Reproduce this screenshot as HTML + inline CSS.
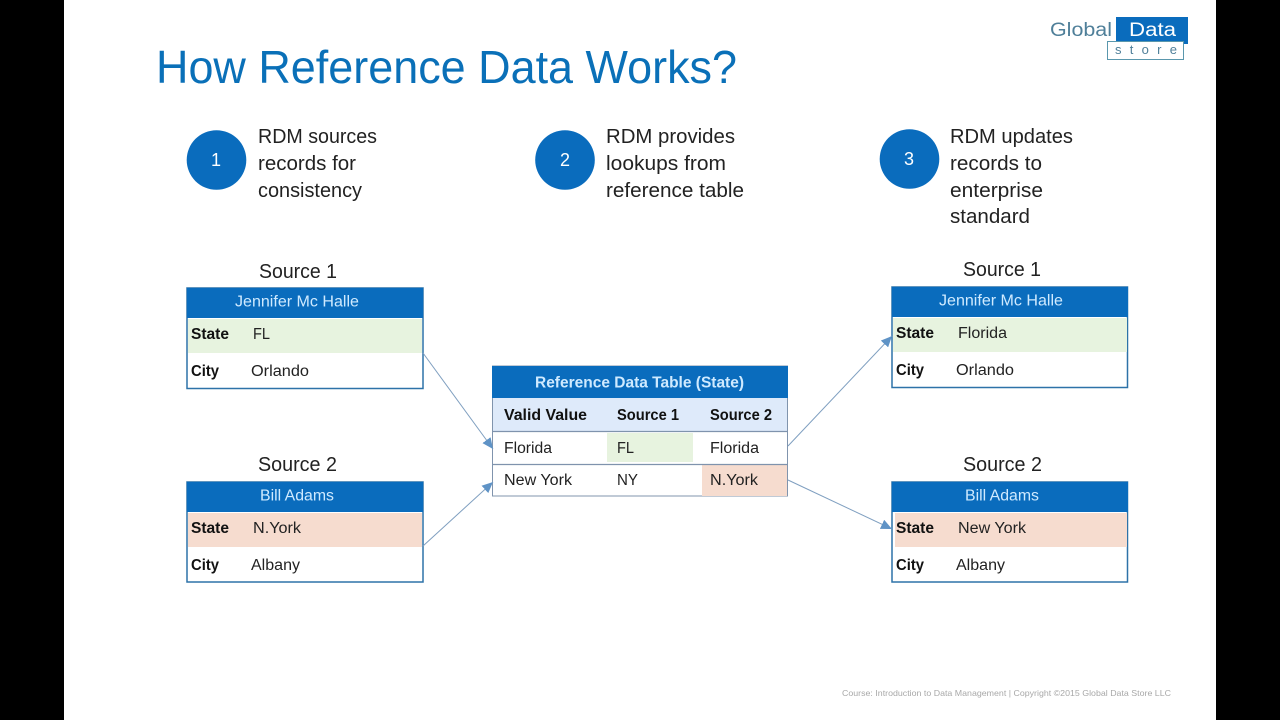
<!DOCTYPE html>
<html><head><meta charset="utf-8"><style>
html,body{margin:0;padding:0;background:#000;width:1280px;height:720px;overflow:hidden}
svg{display:block}
text{font-family:"Liberation Sans",sans-serif}
</style></head><body>
<svg width="1280" height="720" viewBox="0 0 1280 720" xmlns="http://www.w3.org/2000/svg">
<defs><marker id="a" markerWidth="12" markerHeight="10" refX="11" refY="5" orient="auto" markerUnits="userSpaceOnUse"><path d="M0 0L11 5L0 10Z" fill="#5f93c6"/></marker></defs>
<rect x="0" y="0" width="1280" height="720" fill="#000"/>
<rect x="64" y="0" width="1152" height="720" fill="#fff"/>

<text x="156" y="83" font-size="46" fill="#0a70b8" textLength="581" lengthAdjust="spacingAndGlyphs">How Reference Data Works?</text>

<!-- logo -->
<rect x="1116" y="17" width="72" height="27" fill="#0a6cbd"/>
<rect x="1107.500" y="41.500" width="76" height="18" fill="#fff" stroke="#5a97ad"/>
<text x="1050" y="36" font-size="19" fill="#4f7f99" textLength="62" lengthAdjust="spacingAndGlyphs">Global</text>
<text x="1129" y="36" font-size="19" fill="#fff" textLength="47" lengthAdjust="spacingAndGlyphs">Data</text>
<text x="1115" y="54" font-size="13" fill="#4f7f99" textLength="62">store</text>

<!-- steps -->
<circle cx="216.500" cy="160" r="29.800" fill="#0a6cbd"/>
<text x="216" y="166" font-size="18" fill="#fff" text-anchor="middle">1</text>
<circle cx="565" cy="160" r="29.800" fill="#0a6cbd"/>
<text x="565" y="166" font-size="18" fill="#fff" text-anchor="middle">2</text>
<circle cx="909.500" cy="159" r="29.800" fill="#0a6cbd"/>
<text x="909" y="165" font-size="18" fill="#fff" text-anchor="middle">3</text>

<g font-size="20" fill="#222">
<text x="258" y="143" textLength="119" lengthAdjust="spacingAndGlyphs">RDM sources</text>
<text x="258" y="170" textLength="98" lengthAdjust="spacingAndGlyphs">records for</text>
<text x="258" y="197" textLength="104" lengthAdjust="spacingAndGlyphs">consistency</text>
<text x="606" y="143" textLength="129" lengthAdjust="spacingAndGlyphs">RDM provides</text>
<text x="606" y="170" textLength="120" lengthAdjust="spacingAndGlyphs">lookups from</text>
<text x="606" y="197" textLength="138" lengthAdjust="spacingAndGlyphs">reference table</text>
<text x="950" y="143" textLength="123" lengthAdjust="spacingAndGlyphs">RDM updates</text>
<text x="950" y="170" textLength="92" lengthAdjust="spacingAndGlyphs">records to</text>
<text x="950" y="197" textLength="93" lengthAdjust="spacingAndGlyphs">enterprise</text>
<text x="950" y="223" textLength="80" lengthAdjust="spacingAndGlyphs">standard</text>
</g>

<!-- Source 1 left -->
<text x="259" y="278" font-size="20" fill="#222" textLength="78" lengthAdjust="spacingAndGlyphs">Source 1</text>
<rect x="187" y="288" width="236" height="100.500" fill="#fff" stroke="#2d72a8" stroke-width="1.500"/>
<rect x="187" y="288" width="236" height="30" fill="#0a6cbd"/>
<rect x="188" y="319" width="234" height="34" fill="#e7f3df"/>
<text x="297" y="306.500" font-size="15.500" fill="#cfeaff" text-anchor="middle" textLength="124" lengthAdjust="spacingAndGlyphs">Jennifer Mc Halle</text>
<text x="191" y="339" font-size="15.500" font-weight="bold" fill="#111" textLength="38" lengthAdjust="spacingAndGlyphs">State</text>
<text x="253" y="339" font-size="15.500" fill="#222" textLength="17" lengthAdjust="spacingAndGlyphs">FL</text>
<text x="191" y="376" font-size="15.500" font-weight="bold" fill="#111" textLength="28" lengthAdjust="spacingAndGlyphs">City</text>
<text x="251" y="376" font-size="15.500" fill="#222" textLength="58" lengthAdjust="spacingAndGlyphs">Orlando</text>

<!-- Source 2 left -->
<text x="258" y="471" font-size="20" fill="#222" textLength="79" lengthAdjust="spacingAndGlyphs">Source 2</text>
<rect x="187" y="482" width="236" height="100" fill="#fff" stroke="#2d72a8" stroke-width="1.500"/>
<rect x="187" y="482" width="236" height="30" fill="#0a6cbd"/>
<rect x="188" y="513" width="234" height="34" fill="#f6dccf"/>
<text x="297" y="500.500" font-size="15.500" fill="#cfeaff" text-anchor="middle" textLength="74" lengthAdjust="spacingAndGlyphs">Bill Adams</text>
<text x="191" y="533" font-size="15.500" font-weight="bold" fill="#111" textLength="38" lengthAdjust="spacingAndGlyphs">State</text>
<text x="253" y="533" font-size="15.500" fill="#222" textLength="48" lengthAdjust="spacingAndGlyphs">N.York</text>
<text x="191" y="570" font-size="15.500" font-weight="bold" fill="#111" textLength="28" lengthAdjust="spacingAndGlyphs">City</text>
<text x="251" y="570" font-size="15.500" fill="#222" textLength="49" lengthAdjust="spacingAndGlyphs">Albany</text>

<!-- Center table -->
<rect x="492.500" y="366" width="295" height="130" fill="#fff" stroke="#8094ad"/>
<rect x="492" y="366" width="296" height="32" fill="#0a6cbd"/>
<rect x="493" y="398" width="294" height="33" fill="#deeafa"/>
<rect x="607" y="433" width="86" height="29" fill="#e7f3df"/>
<rect x="702" y="465" width="85" height="31" fill="#f6dccf"/>
<path d="M492 431.500H788M492 464.500H788" stroke="#7f93ad" stroke-width="1.200"/>
<text x="535" y="387.500" font-size="15.500" font-weight="bold" fill="#cfeaff" textLength="209" lengthAdjust="spacingAndGlyphs">Reference Data Table (State)</text>
<g font-size="15.500" font-weight="bold" fill="#111">
<text x="504" y="420" textLength="83" lengthAdjust="spacingAndGlyphs">Valid Value</text>
<text x="617" y="420" textLength="62" lengthAdjust="spacingAndGlyphs">Source 1</text>
<text x="710" y="420" textLength="62" lengthAdjust="spacingAndGlyphs">Source 2</text>
</g>
<g font-size="15.500" fill="#222">
<text x="504" y="453" textLength="48" lengthAdjust="spacingAndGlyphs">Florida</text>
<text x="617" y="453" textLength="17" lengthAdjust="spacingAndGlyphs">FL</text>
<text x="710" y="453" textLength="49" lengthAdjust="spacingAndGlyphs">Florida</text>
<text x="504" y="485" textLength="68" lengthAdjust="spacingAndGlyphs">New York</text>
<text x="617" y="485" textLength="21" lengthAdjust="spacingAndGlyphs">NY</text>
<text x="710" y="485" textLength="48" lengthAdjust="spacingAndGlyphs">N.York</text>
</g>

<!-- Source 1 right -->
<text x="963" y="276" font-size="20" fill="#222" textLength="78" lengthAdjust="spacingAndGlyphs">Source 1</text>
<rect x="892" y="287" width="235.500" height="100.500" fill="#fff" stroke="#2d72a8" stroke-width="1.500"/>
<rect x="892" y="287" width="236" height="30" fill="#0a6cbd"/>
<rect x="893" y="318" width="234" height="34" fill="#e7f3df"/>
<text x="1001" y="305.500" font-size="15.500" fill="#cfeaff" text-anchor="middle" textLength="124" lengthAdjust="spacingAndGlyphs">Jennifer Mc Halle</text>
<text x="896" y="338" font-size="15.500" font-weight="bold" fill="#111" textLength="38" lengthAdjust="spacingAndGlyphs">State</text>
<text x="958" y="338" font-size="15.500" fill="#222" textLength="49" lengthAdjust="spacingAndGlyphs">Florida</text>
<text x="896" y="375" font-size="15.500" font-weight="bold" fill="#111" textLength="28" lengthAdjust="spacingAndGlyphs">City</text>
<text x="956" y="375" font-size="15.500" fill="#222" textLength="58" lengthAdjust="spacingAndGlyphs">Orlando</text>

<!-- Source 2 right -->
<text x="963" y="471" font-size="20" fill="#222" textLength="79" lengthAdjust="spacingAndGlyphs">Source 2</text>
<rect x="892" y="482" width="235.500" height="100" fill="#fff" stroke="#2d72a8" stroke-width="1.500"/>
<rect x="892" y="482" width="236" height="30" fill="#0a6cbd"/>
<rect x="895" y="513" width="232" height="34" fill="#f6dccf"/>
<text x="1002" y="500.500" font-size="15.500" fill="#cfeaff" text-anchor="middle" textLength="74" lengthAdjust="spacingAndGlyphs">Bill Adams</text>
<text x="896" y="533" font-size="15.500" font-weight="bold" fill="#111" textLength="38" lengthAdjust="spacingAndGlyphs">State</text>
<text x="958" y="533" font-size="15.500" fill="#222" textLength="68" lengthAdjust="spacingAndGlyphs">New York</text>
<text x="896" y="570" font-size="15.500" font-weight="bold" fill="#111" textLength="28" lengthAdjust="spacingAndGlyphs">City</text>
<text x="956" y="570" font-size="15.500" fill="#222" textLength="49" lengthAdjust="spacingAndGlyphs">Albany</text>

<!-- connectors -->
<g stroke="#7f9fc0" stroke-width="1" fill="none">
<line x1="423" y1="353" x2="493" y2="449" marker-end="url(#a)"/>
<line x1="423" y1="546" x2="493" y2="482" marker-end="url(#a)"/>
<line x1="788" y1="446" x2="892" y2="336" marker-end="url(#a)"/>
<line x1="788" y1="480" x2="892" y2="529" marker-end="url(#a)"/>
</g>

<text x="842" y="696" font-size="8.500" fill="#a8a8a8" textLength="329" lengthAdjust="spacingAndGlyphs">Course: Introduction to Data Management | Copyright ©2015 Global Data Store LLC</text>
</svg>
</body></html>
